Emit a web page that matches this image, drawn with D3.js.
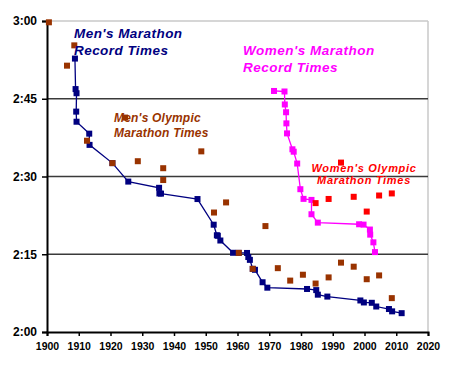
<!DOCTYPE html>
<html>
<head>
<meta charset="utf-8">
<script src="https://cdn.jsdelivr.net/npm/d3@7"></script>
<style>
	body { margin: 0; background: #fff; }
	svg { display: block; font-family: "Liberation Sans", Arial, sans-serif; }
</style>
</head>
<body>
<svg id="chart" width="450" height="365"></svg>
<script>
// men's world record progression [year, time]
const menRecords = [
	[1908.8, '2:52:45'], [1909.0, '2:46:52'], [1909.3, '2:46:04'], [1909.2, '2:42:31'],
	[1909.3, '2:40:34'], [1913.3, '2:38:16'], [1913.4, '2:36:06'], [1920.6, '2:32:35'],
	[1925.6, '2:29:01'], [1935.3, '2:27:49'], [1935.4, '2:26:44'], [1935.9, '2:26:42'],
	[1947.4, '2:25:39'], [1952.5, '2:20:42'], [1953.5, '2:18:40'], [1953.8, '2:18:34'],
	[1954.6, '2:17:39'], [1958.6, '2:15:17'], [1960.4, '2:15:16'], [1963.0, '2:15:15'],
	[1963.4, '2:14:28'], [1963.9, '2:13:55'], [1964.8, '2:12:11'], [1965.5, '2:12:00'],
	[1967.9, '2:09:36'], [1969.4, '2:08:33'], [1981.9, '2:08:18'], [1984.8, '2:08:05'],
	[1985.3, '2:07:12'], [1988.3, '2:06:50'], [1998.7, '2:06:05'], [1999.8, '2:05:42'],
	[2002.3, '2:05:38'], [2003.7, '2:04:55'], [2007.7, '2:04:26'], [2008.7, '2:03:59'],
	[2011.7, '2:03:38']
]

const menOlympic = [
	[1900.6, '2:59:45'], [1906.3, '2:51:23'], [1908.6, '2:55:18'], [1912.6, '2:36:54'],
	[1920.6, '2:32:35'], [1924.6, '2:41:22'], [1928.6, '2:32:57'], [1936.6, '2:31:36'],
	[1936.6, '2:29:19'], [1948.6, '2:34:51'], [1952.6, '2:23:03'], [1956.4, '2:25:00'],
	[1960.4, '2:15:16'], [1964.8, '2:12:11'], [1968.8, '2:20:26'], [1972.7, '2:12:19'],
	[1976.6, '2:09:55'], [1980.6, '2:11:03'], [1984.6, '2:09:21'], [1988.7, '2:10:32'],
	[1992.6, '2:13:23'], [1996.6, '2:12:36'], [2000.7, '2:10:11'], [2004.6, '2:10:55'],
	[2008.6, '2:06:32']
]

const womenRecords = [
	[1971.5, '2:46:30'], [1974.8, '2:46:24'], [1974.9, '2:43:54'], [1975.3, '2:42:24'],
	[1975.4, '2:40:15'], [1975.6, '2:38:19'], [1977.3, '2:35:15'], [1977.7, '2:34:47'],
	[1978.8, '2:32:30'], [1979.8, '2:27:33'], [1980.8, '2:25:41'], [1983.3, '2:25:29'],
	[1983.3, '2:22:43'], [1985.3, '2:21:06'], [1998.3, '2:20:47'], [1999.7, '2:20:43'],
	[2001.7, '2:19:46'], [2001.8, '2:18:47'], [2002.8, '2:17:18'], [2003.3, '2:15:25']
]

const womenOlympic = [
	[1984.6, '2:24:52'], [1988.7, '2:25:40'], [1992.6, '2:32:41'], [1996.6, '2:26:05'],
	[2000.7, '2:23:14'], [2004.6, '2:26:20'], [2008.6, '2:26:44']
]

const yearTicks = d3.range(1900, 2021, 10)
const timeTicks = [120, 135, 150, 165, 180]
const timeTickLabels = ['2:00', '2:15', '2:30', '2:45', '3:00']

const colors = {
	menRec: '#000080',
	menOly: '#993300',
	womenRec: '#ff00ff',
	womenOly: '#ff0000'
}

// "h:mm:ss" -> minutes
const toMin = (s) => {
	const [h, m, sec] = s.split(':').map(Number)
	return h * 60 + m + sec / 60
}

const svg = d3.select('#chart')

const x = d3.scaleLinear().domain([1900, 2020]).range([47, 428])
const y = d3.scaleLinear().domain([120, 180]).range([332, 21])

// plot frame (light) + grid lines
svg.append('line')
	.attr('x1', x(1900)).attr('x2', x(2020))
	.attr('y1', y(180)).attr('y2', y(180))
	.attr('stroke', '#c8c8c8').attr('stroke-width', 1.5)
svg.append('line')
	.attr('x1', x(2020)).attr('x2', x(2020))
	.attr('y1', y(180)).attr('y2', y(120))
	.attr('stroke', '#c8c8c8').attr('stroke-width', 1.5)

svg.append('g')
	.selectAll('line')
	.data([135, 150, 165])
	.join('line')
	.attr('x1', x(1900)).attr('x2', x(2020))
	.attr('y1', d => y(d)).attr('y2', d => y(d))
	.attr('stroke', '#3a3a3a').attr('stroke-width', 1.5)

// axes
const xAxis = svg.append('g')
	.attr('transform', `translate(0,${y(120)})`)
	.call(d3.axisBottom(x).tickValues(yearTicks).tickFormat(d3.format('d')).tickSize(4).tickPadding(7))
xAxis.select('.domain').attr('stroke', '#000').attr('stroke-width', 2)
xAxis.selectAll('.tick line').attr('stroke', '#000').attr('stroke-width', 1.5)
xAxis.selectAll('.tick text')
	.attr('fill', '#000')
	.style('font-size', '10.5px')
	.style('font-weight', 'bold')

const yAxis = svg.append('g')
	.attr('transform', `translate(${x(1900)},0)`)
	.call(d3.axisLeft(y).tickValues(timeTicks).tickFormat((d, i) => timeTickLabels[i]).tickSize(5).tickPadding(5))
yAxis.select('.domain').attr('stroke', '#000').attr('stroke-width', 2)
yAxis.selectAll('.tick line').attr('stroke', '#000').attr('stroke-width', 1.5)
yAxis.selectAll('.tick text')
	.attr('fill', '#000')
	.style('font-size', '12px')
	.style('font-weight', 'bold')

// series
const line = d3.line()
	.x(d => x(d[0]))
	.y(d => y(toMin(d[1])))

const drawSeries = (data, color, withLine) => {
	const g = svg.append('g')
	if (withLine) {
		g.append('path')
			.datum(data)
			.attr('d', line)
			.attr('fill', 'none')
			.attr('stroke', color)
			.attr('stroke-width', 1.3)
	}
	g.selectAll('rect')
		.data(data)
		.join('rect')
		.attr('x', d => x(d[0]) - 3)
		.attr('y', d => y(toMin(d[1])) - 3)
		.attr('width', 6)
		.attr('height', 6)
		.attr('fill', color)
}

drawSeries(menRecords, colors.menRec, true)
drawSeries(menOlympic, colors.menOly, false)
drawSeries(womenRecords, colors.womenRec, true)
drawSeries(womenOlympic, colors.womenOly, false)

// annotations
const labels = [
	{ lines: ["Men's Marathon", 'Record Times'], x: 74, y: 38, dy: 17, size: 13.5, ls: 0.45, color: colors.menRec, anchor: 'start' },
	{ lines: ["Men's Olympic", 'Marathon Times'], x: 114, y: 122, dy: 15, size: 12, ls: 0.2, color: colors.menOly, anchor: 'start' },
	{ lines: ["Women's Marathon", 'Record Times'], x: 243, y: 55, dy: 17, size: 13.5, ls: 0.5, color: colors.womenRec, anchor: 'start' },
	{ lines: ["Women's Olympic", 'Marathon Times'], x: 364, y: 172, dy: 12, size: 11, ls: 0.7, color: colors.womenOly, anchor: 'middle' }
]

labels.forEach(l => {
	const t = svg.append('text')
		.attr('x', l.x)
		.attr('y', l.y)
		.attr('fill', l.color)
		.attr('text-anchor', l.anchor)
		.style('font-size', l.size + 'px')
		.style('font-weight', 'bold')
		.style('font-style', 'italic')
		.style('letter-spacing', l.ls + 'px')
	l.lines.forEach((s, i) => {
		t.append('tspan')
			.attr('x', l.x)
			.attr('dy', i === 0 ? 0 : l.dy)
			.text(s)
	})
})
</script>
</body>
</html>
